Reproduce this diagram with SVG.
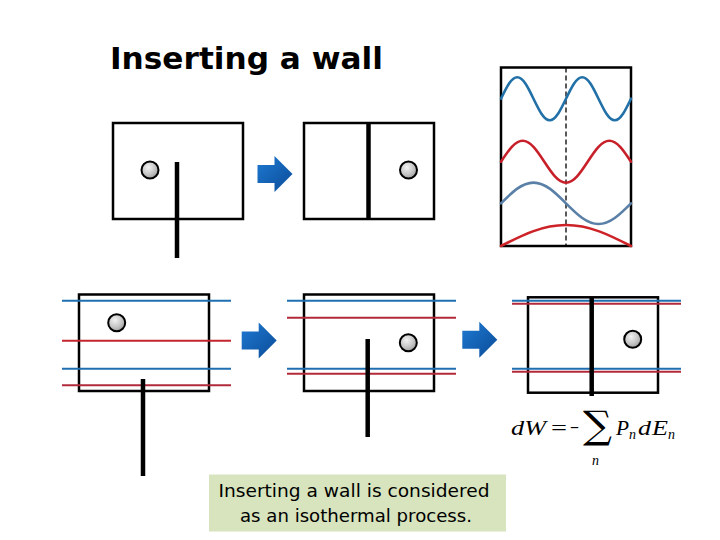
<svg xmlns="http://www.w3.org/2000/svg" xmlns:xlink="http://www.w3.org/1999/xlink" width="720" height="540" viewBox="0 0 720 540">
<defs>
<radialGradient id="ball" cx="0.4" cy="0.35" r="0.7">
<stop offset="0" stop-color="#f2f2f2"/>
<stop offset="0.6" stop-color="#c4c4c4"/>
<stop offset="1" stop-color="#9a9a9a"/>
</radialGradient>
<linearGradient id="arrowg" x1="0" y1="0" x2="1" y2="1">
<stop offset="0" stop-color="#1e7ad2"/>
<stop offset="1" stop-color="#0b4b98"/>
</linearGradient>
<path id="arrow" d="M0,-9 H17 V-18 L35,0 L17,18 V9 H0 Z" fill="url(#arrowg)"/>
</defs>
<style>
.box{fill:none;stroke:#000;stroke-width:2.5}
.wall{stroke:#000;stroke-width:4.5;fill:none}
.ball{fill:url(#ball);stroke:#000;stroke-width:2}
.bl{stroke:#1f6fb0;stroke-width:2;fill:none}
.rl{stroke:#c3262e;stroke-width:2;fill:none}
.rd{stroke:#b02a3a;stroke-width:2;fill:none}
.wave{fill:none;stroke-width:2.6;stroke-linecap:round}
.title{font-family:"DejaVu Sans",sans-serif;font-weight:bold;font-size:31px;fill:#000}
.note{font-family:"DejaVu Sans",sans-serif;font-size:18px;fill:#000}
.eq{font-family:"Liberation Serif",serif;font-style:italic;font-size:22px;fill:#000}
.eqs{font-family:"Liberation Serif",serif;font-style:italic;font-size:14px;fill:#000}
.eqr{font-family:"Liberation Serif",serif;font-size:22px;fill:#000}
</style>
<rect width="720" height="540" fill="#fff"/>
<text class="title" x="110" y="69" textLength="273" lengthAdjust="spacingAndGlyphs">Inserting a wall</text>

<g id="top-box-1">
<rect class="box" x="113" y="123" width="130" height="96"/>
<circle class="ball" cx="150" cy="170" r="8.5"/>
<line class="wall" x1="177" y1="162" x2="177" y2="258"/>
</g>
<g id="top-box-2">
<rect class="box" x="304" y="123" width="130" height="96"/>
<line class="wall" x1="368.5" y1="123" x2="368.5" y2="219"/>
<circle class="ball" cx="408.5" cy="170" r="8.5"/>
</g>

<g id="wave-panel">
<rect class="box" x="501" y="67.5" width="130" height="178.5"/>
<line x1="566" y1="67.5" x2="566" y2="246" stroke="#000" stroke-width="1.3" stroke-dasharray="5,3"/>
<path class="wave" stroke="#2170a8" d="M501,98.7 C506.43,87.41 511.34,77.2 517.25,77.2 S528.07,87.41 533.5,98.7 S543.84,120.2 549.75,120.2 S560.57,109.99 566,98.7 S576.34,77.2 582.25,77.2 S593.07,87.41 598.5,98.7 S608.84,120.2 614.75,120.2 S625.57,109.99 631,98.7"/>
<path class="wave" stroke="#c8202a" d="M501,161.7 C508.24,150.67 514.79,140.7 522.67,140.7 S537.09,150.67 544.33,161.7 S558.13,182.7 566,182.7 S580.43,172.73 587.67,161.7 S601.46,140.7 609.33,140.7 S623.76,150.67 631,161.7"/>
<path class="wave" stroke="#5a80a8" d="M501,203.3 C511.86,192.43 521.69,182.6 533.5,182.6 S555.14,192.43 566,203.3 S586.69,224 598.5,224 S620.14,214.17 631,203.3"/>
<path class="wave" stroke="#cc2228" d="M501,246 C522.73,234.97 542.38,225 566,225 S609.27,234.97 631,246"/>
</g>

<g id="bottom-box-1">
<rect class="box" x="79" y="294.5" width="130" height="96.5"/>
<line class="bl" x1="62" y1="300.7" x2="231" y2="300.7"/>
<line class="rl" x1="62" y1="340.7" x2="231" y2="340.7"/>
<line class="bl" x1="62" y1="368.7" x2="231" y2="368.7"/>
<line class="rd" x1="62" y1="385.3" x2="231" y2="385.3"/>
<circle class="ball" cx="116.7" cy="322.7" r="8.5"/>
<line class="wall" x1="143" y1="379" x2="143" y2="476"/>
</g>

<g id="bottom-box-2">
<rect class="box" x="304" y="294.5" width="130" height="96.5"/>
<line class="bl" x1="287" y1="300.7" x2="456" y2="300.7"/>
<line class="rd" x1="287" y1="317.7" x2="456" y2="317.7"/>
<line class="bl" x1="287" y1="368.7" x2="456" y2="368.7"/>
<line class="rd" x1="287" y1="373.7" x2="456" y2="373.7"/>
<circle class="ball" cx="408.3" cy="342.7" r="8.5"/>
<line class="wall" x1="367.7" y1="339" x2="367.7" y2="437"/>
</g>

<g id="bottom-box-3">
<rect class="box" x="528" y="297.3" width="130" height="95.4"/>
<line class="bl" x1="512" y1="300.7" x2="681" y2="300.7"/>
<line class="rd" x1="512" y1="303.7" x2="681" y2="303.7"/>
<line class="bl" x1="512" y1="368.7" x2="681" y2="368.7"/>
<line class="rd" x1="512" y1="371.7" x2="681" y2="371.7"/>
<line class="wall" x1="591.7" y1="297.3" x2="591.7" y2="396"/>
<circle class="ball" cx="632.7" cy="339.3" r="8.5"/>
</g>

<g id="connectors">
<use xlink:href="#arrow" x="257.5" y="174"/>
<use xlink:href="#arrow" x="241.7" y="340.5"/>
<use xlink:href="#arrow" x="462.3" y="339.7"/>
</g>

<g id="equation">
<text class="eq" x="511" y="435" textLength="35" lengthAdjust="spacingAndGlyphs">dW</text>
<text class="eqr" x="551" y="435" textLength="16" lengthAdjust="spacingAndGlyphs">=</text>
<text class="eqr" x="570" y="435" textLength="9" lengthAdjust="spacingAndGlyphs">−</text>
<text x="583" y="438" font-family="DejaVu Serif, serif" font-size="38" textLength="29" lengthAdjust="spacingAndGlyphs">∑</text>
<text class="eqs" x="592" y="465">n</text>
<text class="eq" x="616" y="435" textLength="13" lengthAdjust="spacingAndGlyphs">P</text>
<text class="eqs" x="629" y="439">n</text>
<text class="eq" x="638" y="435" textLength="13" lengthAdjust="spacingAndGlyphs">d</text>
<text class="eq" x="652" y="435" textLength="16" lengthAdjust="spacingAndGlyphs">E</text>
<text class="eqs" x="668" y="439">n</text>
</g>

<g id="note">
<rect x="209" y="474.5" width="297" height="57" fill="#d7e4bd"/>
<text class="note" x="218.5" y="497" textLength="271" lengthAdjust="spacingAndGlyphs">Inserting a wall is considered</text>
<text class="note" x="240" y="522" textLength="232" lengthAdjust="spacingAndGlyphs">as an isothermal process.</text>
</g>
</svg>
